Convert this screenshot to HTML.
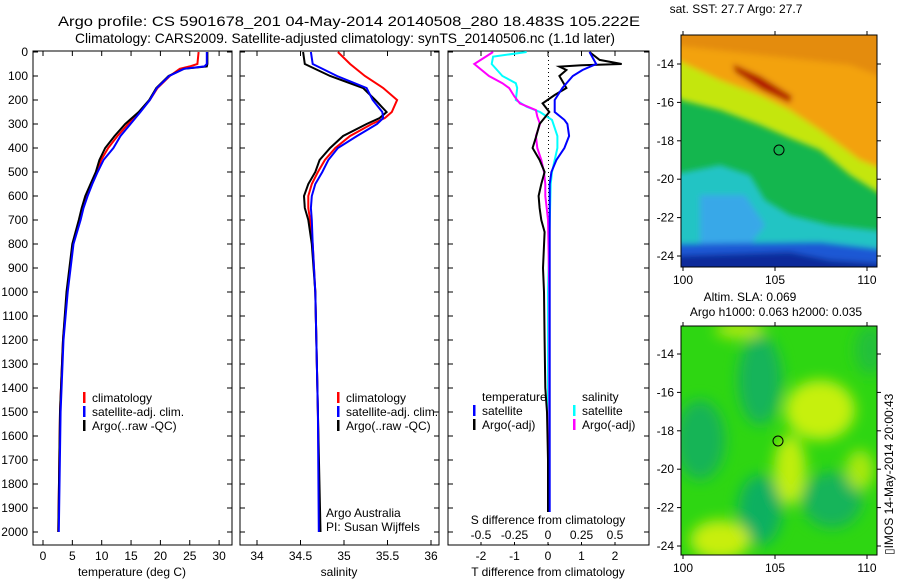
<!DOCTYPE html>
<html><head><meta charset="utf-8"><style>
html,body{margin:0;padding:0;background:#fff;}
svg{display:block;font-family:"Liberation Sans",sans-serif;}
text{font-size:12px;fill:#000;}
</style></head><body>
<svg id="fig" width="900" height="580" viewBox="0 0 900 580">
<defs>
<filter id="blur4" x="-20%" y="-20%" width="140%" height="140%"><feGaussianBlur stdDeviation="3"/></filter>
<filter id="blur7" x="-20%" y="-20%" width="140%" height="140%"><feGaussianBlur stdDeviation="7"/></filter>
<clipPath id="clip1"><rect x="681" y="35" width="196" height="232"/></clipPath>
<clipPath id="clip2"><rect x="681" y="326" width="196" height="229"/></clipPath>
</defs>
<text x="58" y="26" textLength="582" lengthAdjust="spacingAndGlyphs" style="font-size:14px">Argo profile: CS 5901678_201 04-May-2014 20140508_280 18.483S 105.222E</text>
<text x="75" y="43" textLength="540" lengthAdjust="spacingAndGlyphs" style="font-size:14px">Climatology: CARS2009. Satellite-adjusted climatology: synTS_20140506.nc (1.1d later)</text>

<g id="p1"></g>
<g id="p2"></g>
<g id="p3"></g>

<!-- SST map -->
<g>
<text x="736" y="13" text-anchor="middle">sat. SST: 27.7 Argo: 27.7</text>
<g clip-path="url(#clip1)">
<rect x="681" y="35" width="196" height="232" fill="#14b64e"/>
<g filter="url(#blur4)">
<polygon points="670,90 681,100 720,110 760,125 790,138 820,150 850,175 890,200 890,20 670,20" fill="#c4e60c"/>
<polygon points="670,25 890,25 890,172 860,160 820,130 790,110 760,95 720,80 681,62 670,60" fill="#f3a20a"/>
<polygon points="670,25 890,25 890,80 850,65 760,55 670,45" fill="#e48c0a"/>
<polygon points="733,64 760,76 792,96 790,103 762,90 735,72" fill="#b01005"/>
<polygon points="670,175 720,165 750,175 765,200 790,215 830,225 890,232 890,280 670,280" fill="#22c4c4"/>
<polygon points="700,195 745,195 765,225 750,245 700,245" fill="#38a8e8"/>
<polygon points="670,244 820,242 890,250 890,280 670,280" fill="#1a58d4"/>
<polygon points="670,256 790,252 830,260 890,264 890,280 670,280" fill="#0c2a9a"/>
</g>
</g>
<rect x="681" y="35" width="196" height="232" fill="none" stroke="#000" stroke-width="1"/>
<circle cx="779" cy="150" r="5" fill="none" stroke="#000"/>
<g id="m1ticks"></g>
</g>

<!-- SLA map -->
<g>
<text x="750" y="301" text-anchor="middle">Altim. SLA: 0.069</text>
<text x="776" y="316" text-anchor="middle">Argo h1000: 0.063 h2000: 0.035</text>
<g clip-path="url(#clip2)">
<rect x="681" y="326" width="196" height="229" fill="#2ed612"/>
<g filter="url(#blur7)">
<ellipse cx="760" cy="380" rx="22" ry="45" fill="#14b45a"/>
<ellipse cx="700" cy="440" rx="25" ry="40" fill="#16b456"/>
<ellipse cx="760" cy="510" rx="22" ry="35" fill="#10b060"/>
<ellipse cx="832" cy="500" rx="30" ry="28" fill="#14b45a"/>
<ellipse cx="870" cy="350" rx="15" ry="25" fill="#22c03a"/>
<ellipse cx="820" cy="410" rx="35" ry="30" fill="#c6f00a"/>
<ellipse cx="790" cy="470" rx="16" ry="35" fill="#c0ee0a"/>
<ellipse cx="720" cy="540" rx="30" ry="20" fill="#c8ee10"/>
<ellipse cx="740" cy="330" rx="25" ry="8" fill="#b8ea10"/>
<ellipse cx="860" cy="470" rx="14" ry="20" fill="#a8e810"/>
</g>
</g>
<rect x="681" y="326" width="196" height="229" fill="none" stroke="#000" stroke-width="1"/>
<circle cx="778" cy="441" r="5" fill="none" stroke="#000"/>
<g id="m2ticks"></g>
<text transform="translate(893,555) rotate(-90)">▯IMOS 14-May-2014 20:00:43</text>
</g>
</svg>
<script>
// ---- data ----
const depthTicks = [0,100,200,300,400,500,600,700,800,900,1000,1100,1200,1300,1400,1500,1600,1700,1800,1900,2000];
const tempTicks = [0,5,10,15,20,25,30];
const salTicks = [34,34.5,35,35.5,36];
const salTickLabels = ["34","34.5","35","35.5","36"];
const tdiffTicks = [-2,-1,0,1,2];
const sdiffTicks = [-0.5,-0.25,0,0.25,0.5];
const sdiffTickLabels = ["-0.5","-0.25","0","0.25","0.5"];

const tempDepth = [0,50,60,70,100,150,200,250,300,350,400,450,500,550,600,650,700,800,1000,1200,1500,2000];
const tempClim = [26.5,26.3,25,23.3,21.6,19.5,18.2,16.5,14.5,12.7,11.1,9.9,9.2,8.3,7.5,6.8,6.3,5.1,4.1,3.4,2.9,2.6];
const tempSat  = [27.9,27.9,27.5,24,21.5,19.4,18.2,16.6,14.9,13.2,12,10.3,9.3,8.4,7.6,6.9,6.4,5.2,4.2,3.5,3.0,2.7];
const tempArgo = [28,28,27.9,24,21.4,19.3,18.1,16.3,14,12.2,10.6,9.6,9.0,8.1,7.2,6.6,6.1,5.0,4.0,3.4,2.9,2.6];

const salDepth = [0,50,100,150,200,250,275,300,350,400,450,500,550,600,650,700,800,1000,1500,2000];
const salClim = [34.93,35.07,35.24,35.45,35.61,35.55,35.47,35.32,35.07,34.9,34.78,34.70,34.63,34.59,34.59,34.61,34.64,34.67,34.70,34.72];
const salSat  = [34.62,34.64,34.92,35.26,35.33,35.44,35.45,35.38,35.15,34.93,34.82,34.75,34.67,34.63,34.62,34.63,34.64,34.67,34.70,34.71];
const salArgo = [34.53,34.55,34.84,35.22,35.36,35.49,35.41,35.26,34.99,34.84,34.72,34.67,34.59,34.54,34.55,34.59,34.63,34.67,34.70,34.73];

const tdSatDepth = [0,50,75,100,150,200,250,283,300,350,400,450,500,550,800,1200,1600,2000];
const tdSat = [1.24,1.44,1.03,0.74,0.43,0.2,0.2,0.49,0.58,0.63,0.49,0.25,0.1,0.05,0.05,0.05,0.05,0.05];
const tdArgoDepth = [0,33,50,55,61,75,100,150,179,214,250,300,350,400,450,500,550,600,650,700,750,900,1000,1200,1400,1500,1700,2000];
const tdArgo = [1.24,1.54,2.2,1.0,0.34,0.55,0.34,0.55,0.2,-0.16,0.04,-0.25,-0.35,-0.46,-0.25,-0.1,-0.2,-0.28,-0.25,-0.2,-0.1,-0.15,-0.12,-0.1,-0.08,-0.03,0,0];
const sdArgoDepth = [0,50,100,130,150,186,214,242,269,300,350,400,450,500,550,600,650,700,1000,1500,2000];
const sdArgo = [-0.41,-0.55,-0.44,-0.34,-0.29,-0.25,-0.21,-0.09,-0.08,-0.06,-0.09,-0.08,-0.05,-0.03,-0.02,-0.02,-0.01,0,0.01,0.01,0.01];
const sdSatDepth = [0,19,50,100,130,150,200,228,250,283,350,400,450,500,550,1000,2000];
const sdSat = [-0.16,-0.41,-0.42,-0.34,-0.24,-0.23,-0.24,-0.16,-0.06,0.03,0.07,0.07,0.05,0.03,0.02,0,0];

const lonTicks = [100,105,110];
const latTicks = [-14,-16,-18,-20,-22,-24];

// ---- helpers ----
const NS = "http://www.w3.org/2000/svg";
function mk(parent, tag, attrs, txt){
  const e = document.createElementNS(NS, tag);
  for (const k in attrs) e.setAttribute(k, attrs[k]);
  if (txt !== undefined) e.textContent = txt;
  parent.appendChild(e);
  return e;
}
const TOP = 52, BOT = 545;
function yD(d){ return TOP + d * 0.24; }

function panel(g, x0, x1, xs, ticks, labels, showYLabels, name){
  const frame = mk(g, "rect", {x:x0, y:TOP-1, width:x1-x0, height:BOT-TOP+1, fill:"none", stroke:"#000", "stroke-width":1});
  
  
  depthTicks.forEach(d => {
    const y = yD(d);
    mk(g, "line", {x1:x0, x2:x0+5, y1:y, y2:y, stroke:"#000"});
    mk(g, "line", {x1:x1-5, x2:x1, y1:y, y2:y, stroke:"#000"});
    if (showYLabels){
      const t = mk(g, "text", {x:x0-5, y:y+4, "text-anchor":"end"}, String(d));
      
      
    }
  });
  if (ticks) ticks.forEach((v,i) => {
    const x = xs(v);
    mk(g, "line", {x1:x, x2:x, y1:BOT, y2:BOT-5, stroke:"#000"});
    mk(g, "line", {x1:x, x2:x, y1:TOP-1, y2:TOP+4, stroke:"#000"});
    const t = mk(g, "text", {x:x, y:BOT+15, "text-anchor":"middle"}, labels ? labels[i] : String(v));
    
    
  });
}
function line(g, xs, vals, depths, color, name, w){
  const pts = vals.map((v,i) => xs(v).toFixed(1) + "," + yD(depths[i]).toFixed(1)).join(" ");
  const p = mk(g, "polyline", {points:pts, fill:"none", stroke:color, "stroke-width":w||2, "stroke-linejoin":"miter"});
  
  
}
function legendItem(g, x, y, color, label, name){
  if (color) mk(g, "rect", {x:x, y:y-10, width:2.5, height:11, fill:color});
  const t = mk(g, "text", {x:x+9, y:y}, label);
  
  
}

// ---- panel 1: temperature ----
const g1 = document.getElementById("p1");
const xT = v => 43 + v * 5.87;
panel(g1, 33, 232, xT, tempTicks, null, true, "temperature");
line(g1, xT, tempClim, tempDepth, "#f00", "temp-climatology-line");
line(g1, xT, tempArgo, tempDepth, "#000", "temp-argo-line");
line(g1, xT, tempSat, tempDepth, "#00f", "temp-satellite-line");
legendItem(g1, 83, 402, "#f00", "climatology", "legend-climatology");
legendItem(g1, 83, 416, "#00f", "satellite-adj. clim.", "legend-satellite");
legendItem(g1, 83, 430, "#000", "Argo(..raw -QC)", "legend-argo");
mk(g1, "text", {x:132, y:576, "text-anchor":"middle"}, "temperature (deg C)");

// ---- panel 2: salinity ----
const g2 = document.getElementById("p2");
const xS = v => 257 + (v - 34) * 87;
panel(g2, 240, 439, xS, salTicks, salTickLabels, false, "salinity");
line(g2, xS, salClim, salDepth, "#f00", "sal-climatology-line");
line(g2, xS, salArgo, salDepth, "#000", "sal-argo-line");
line(g2, xS, salSat, salDepth, "#00f", "sal-satellite-line");
legendItem(g2, 337, 402, "#f00", "climatology", "legend-climatology-2");
legendItem(g2, 337, 416, "#00f", "satellite-adj. clim.", "legend-satellite-2");
legendItem(g2, 337, 430, "#000", "Argo(..raw -QC)", "legend-argo-2");
mk(g2, "text", {x:326, y:517}, "Argo Australia");
mk(g2, "text", {x:326, y:531}, "PI: Susan Wijffels");
mk(g2, "text", {x:339, y:576, "text-anchor":"middle"}, "salinity");

// ---- panel 3: differences ----
const g3 = document.getElementById("p3");
const xTd = v => 548 + v * 33.5;
const xSd = v => 548 + v * 134;
panel(g3, 448, 649, null, null, null, false, "difference");
mk(g3, "line", {x1:548.5, x2:548.5, y1:TOP, y2:BOT, stroke:"#000", "stroke-dasharray":"1,3"});
tdiffTicks.forEach(v => {
  const x = xTd(v);
  mk(g3, "line", {x1:x, x2:x, y1:TOP-1, y2:TOP+4, stroke:"#000"});
  mk(g3, "line", {x1:x, x2:x, y1:BOT, y2:BOT-5, stroke:"#000"});
  const t = mk(g3, "text", {x:x, y:560, "text-anchor":"middle"}, String(v));
  
  
});
line(g3, xSd, sdSat, sdSatDepth, "#0ff", "s-diff-satellite-line");
line(g3, xSd, sdArgo, sdArgoDepth, "#f0f", "s-diff-argo-line");
line(g3, xTd, tdArgo, tdArgoDepth, "#000", "t-diff-argo-line");
line(g3, xTd, tdSat, tdSatDepth, "#00f", "t-diff-satellite-line");
legendItem(g3, 473, 401, null, "temperature", "legend-temperature-header");
legendItem(g3, 573, 401, null, "salinity", "legend-salinity-header");
legendItem(g3, 473, 415, "#00f", "satellite", "legend-t-satellite");
legendItem(g3, 473, 429, "#000", "Argo(-adj)", "legend-t-argo");
legendItem(g3, 573, 415, "#0ff", "satellite", "legend-s-satellite");
legendItem(g3, 573, 429, "#f0f", "Argo(-adj)", "legend-s-argo");
mk(g3, "rect", {x:466, y:512, width:166, height:30, fill:"#fff"});
mk(g3, "text", {x:548, y:524, "text-anchor":"middle"}, "S difference from climatology");
sdiffTicks.forEach((v,i) => {
  const t = mk(g3, "text", {x:xSd(v), y:539, "text-anchor":"middle"}, sdiffTickLabels[i]);
  
  
});
mk(g3, "text", {x:548, y:576, "text-anchor":"middle"}, "T difference from climatology");

// ---- map ticks ----
function mapTicks(id, top, bot, y14){
  const g = document.getElementById(id);
  lonTicks.forEach(v => {
    const x = 683 + (v - 100) * 18.4;
    mk(g, "line", {x1:x, x2:x, y1:top, y2:top-4, stroke:"#000"});
    mk(g, "line", {x1:x, x2:x, y1:bot, y2:bot+4, stroke:"#000"});
    const t = mk(g, "text", {x:x, y:bot+17, "text-anchor":"middle"}, String(v));
    
    
  });
  latTicks.forEach(v => {
    const y = y14 + (-14 - v) * 19.2;
    mk(g, "line", {x1:681, x2:677, y1:y, y2:y, stroke:"#000"});
    mk(g, "line", {x1:877, x2:881, y1:y, y2:y, stroke:"#000"});
    const t = mk(g, "text", {x:674, y:y+4, "text-anchor":"end"}, String(v));
    
    
  });
}
mapTicks("m1ticks", 35, 267, 64);
mapTicks("m2ticks", 326, 555, 354);
</script>
</body></html>
